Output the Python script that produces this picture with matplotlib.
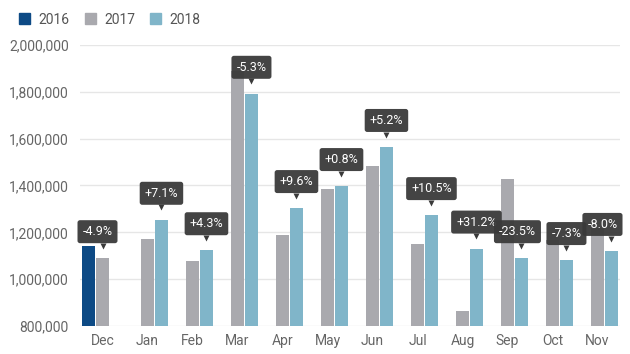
import matplotlib
matplotlib.use("Agg")
import matplotlib.pyplot as plt
from matplotlib.patches import Patch
from matplotlib.ticker import FuncFormatter
from matplotlib.transforms import offset_copy
import numpy as np

plt.rcParams['font.family'] = ['Roboto', 'DejaVu Sans']

### Data
months = ["Dec", "Jan", "Feb", "Mar", "Apr", "May", "Jun", "Jul", "Aug", "Sep", "Oct", "Nov"]
v2016 = [1142000, None, None, None, None, None, None, None, None, None, None, None]
v2017 = [1089000, 1170000, 1078000, 1891000, 1189000, 1384000, 1485000, 1150000, 863000, 1427000, 1167000, 1217000]
v2018 = [None, 1253000, 1123000, 1791000, 1303000, 1397000, 1564000, 1273000, 1130000, 1089000, 1081000, 1120000]
changes = ["-4.9%", "+7.1%", "+4.3%", "-5.3%", "+9.6%", "+0.8%", "+5.2%", "+10.5%", "+31.2%", "-23.5%", "-7.3%", "-8.0%"]

# Aesthetic
c2016 = "#0d4a85"
c2017 = "#a9a9ae"
c2018 = "#80b5c9"
box_c = "#3a3a3a"
txt_c = "#666666"

fig = plt.figure(figsize=(6.3, 3.54), dpi=100)
ax = fig.add_axes([80 / 630, 28 / 354, 540 / 630, 281 / 354])

x = np.arange(len(months))
step = 0.31
bw = 0.27

def clean(vals):
    return np.array([np.nan if v is None else v for v in vals], dtype=float)

a16, a17, a18 = clean(v2016), clean(v2017), clean(v2018)
ax.bar(x - step, a16, bw, color=c2016, zorder=2)
ax.bar(x, a17, bw, color=c2017, zorder=2)
ax.bar(x + step, a18, bw, color=c2018, zorder=2)

ax.set_xlim(-0.5, 11.5)
ax.set_ylim(800000, 2000000)
ax.set_yticks(np.arange(800000, 2000001, 200000))
ax.yaxis.set_major_formatter(FuncFormatter(lambda v, p: f"{int(v):,}"))
ax.set_xticks(x)
ax.set_xticklabels(months)
ax.tick_params(length=0, labelsize=10, colors=txt_c, pad=6)
ax.tick_params(axis="y", pad=8)
ax.grid(axis="y", color="#e6e6e6", lw=1, zorder=0)
for s in ax.spines.values():
    s.set_visible(False)

### Change labels
# the label sits over the newest bar of each month
x_shift = {0: -5, 9: -4, 11: -9}  # px, boxes pushed inside the plot
for i, lab in enumerate(changes):
    if np.isnan(a18[i]):
        bx, top = x[i], a17[i]
    else:
        bx, top = x[i] + step, a18[i]
    dx = x_shift.get(i, 0) * 72 / 100
    ax.annotate(lab, xy=(bx, top), xytext=(dx, 14.5), textcoords="offset points",
                ha="center", va="bottom", fontsize=9, color="white", zorder=5,
                bbox=dict(boxstyle="round,pad=0.4,rounding_size=0.2", fc=box_c, ec="none", alpha=0.95))
    tr = offset_copy(ax.transData, fig=fig, x=0, y=9, units="points")
    ax.plot(bx, top, marker="v", ms=5, color=box_c, mec="none", transform=tr, zorder=5)

### Legend
handles = [Patch(color=c2016), Patch(color=c2017), Patch(color=c2018)]
fig.legend(handles, ["2016", "2017", "2018"], loc="upper left", bbox_to_anchor=(0.01, 1.0),
           ncol=3, frameon=False, handlelength=0.8, handleheight=0.8, handletextpad=0.6,
           columnspacing=1.1, fontsize=10, labelcolor="#555555")

fig.savefig("out.png", dpi=100)
